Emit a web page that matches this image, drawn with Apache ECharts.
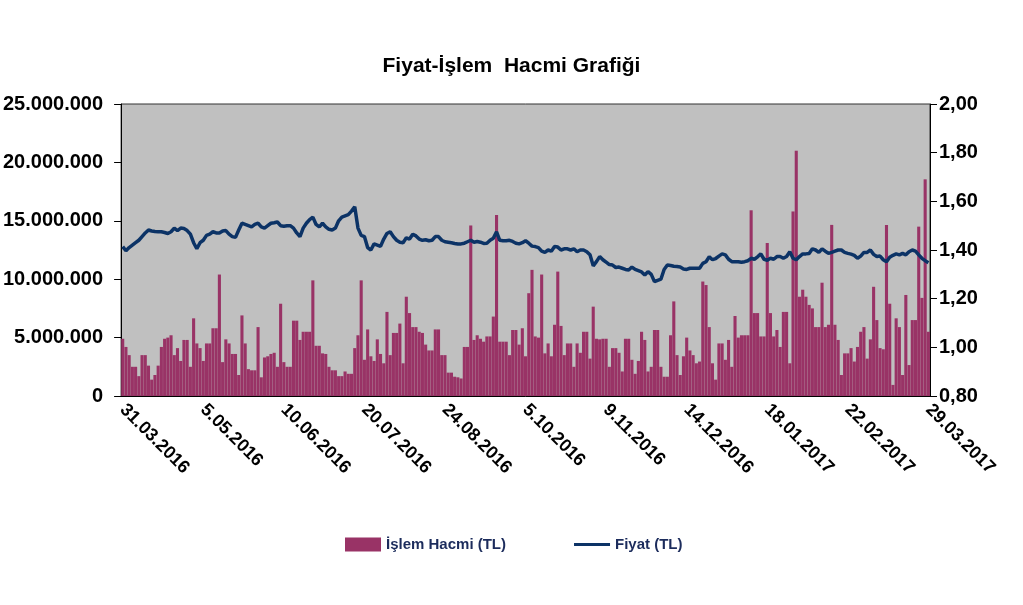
<!DOCTYPE html>
<html>
<head>
<meta charset="utf-8">
<script src="https://cdn.jsdelivr.net/npm/echarts@6/dist/echarts.min.js"></script>
<style>
  html, body { margin: 0; padding: 0; background: #fff; }
  #chart { width: 1023px; height: 605px; }
</style>
</head>
<body>
<div id="chart"></div>
<script>
// x axis labels, one every 25 trading days
const tickLabels = ['31.03.2016', '5.05.2016', '10.06.2016', '20.07.2016', '24.08.2016', '5.10.2016',
  '9.11.2016', '14.12.2016', '18.01.2017', '22.02.2017', '29.03.2017']

// daily trading volume, million TL
const volumeMn = [
  4.9, 4.2, 3.5, 2.5, 2.5, 1.7, 3.5, 3.5, 2.6, 1.4, 1.8, 2.6, 4.2, 4.9, 5.0, 5.2, 3.5, 4.1, 3.0, 4.8, 4.8, 2.5, 6.65, 4.5, 4.1,
  3.0, 4.5, 4.5, 5.8, 5.8, 10.4, 2.9, 4.85, 4.5, 3.6, 3.6, 1.8, 6.9, 4.5, 2.3, 2.2, 2.2, 5.9, 1.6, 3.3, 3.4, 3.6, 3.7, 2.5, 7.9,
  2.9, 2.5, 2.5, 6.45, 6.45, 4.8, 5.5, 5.5, 5.5, 9.9, 4.3, 4.3, 3.65, 3.6, 2.5, 2.2, 2.2, 1.7, 1.7, 2.1, 1.9, 1.9, 4.1, 5.2, 9.9,
  3.1, 5.7, 3.4, 3.0, 4.85, 3.6, 2.8, 7.2, 3.5, 5.4, 5.4, 6.2, 2.8, 8.5, 7.1, 5.9, 5.9, 5.5, 5.4, 4.4, 3.9, 3.9, 5.7, 5.7, 3.5,
  3.5, 2.0, 2.0, 1.65, 1.6, 1.5, 4.2, 4.2, 14.6, 4.8, 5.2, 4.9, 4.65, 5.1, 5.1, 6.8, 15.5, 4.65, 4.65, 4.65, 3.5, 5.65, 5.65, 4.4, 5.8,
  3.4, 8.8, 10.8, 5.1, 5.0, 10.4, 3.65, 4.5, 3.4, 6.1, 10.65, 6.0, 3.5, 4.5, 4.5, 2.5, 4.5, 3.7, 5.5, 5.5, 3.2, 7.65, 4.9, 4.85, 4.9,
  4.9, 2.5, 4.1, 4.1, 3.7, 2.1, 4.9, 4.9, 3.1, 1.9, 3.0, 5.5, 4.8, 2.1, 2.5, 5.65, 5.65, 2.5, 1.65, 1.65, 5.2, 8.1, 3.5, 1.8, 3.4,
  5.0, 3.9, 3.5, 2.8, 2.95, 9.8, 9.5, 5.9, 2.8, 1.4, 4.5, 4.5, 3.1, 4.8, 2.5, 6.85, 5.0, 5.2, 5.2, 5.2, 15.9, 7.1, 7.1, 5.1, 5.1,
  13.1, 7.1, 5.1, 5.65, 4.2, 7.2, 7.2, 2.8, 15.8, 21.0, 8.5, 9.1, 8.5, 7.8, 7.5, 5.9, 5.9, 9.7, 5.9, 6.1, 14.65, 6.1, 4.8, 1.8, 3.65,
  3.65, 4.1, 2.95, 4.2, 5.5, 5.9, 3.2, 4.85, 9.35, 6.5, 4.1, 4.0, 14.65, 7.9, 0.95, 6.65, 5.9, 1.8, 8.65, 2.65, 6.5, 6.5, 14.5, 8.4, 18.55, 5.5
]

// closing price, TL
const price = [
  1.414, 1.397, 1.41, 1.42, 1.43, 1.44, 1.455, 1.47, 1.482, 1.478, 1.476, 1.475, 1.475, 1.472, 1.468, 1.475, 1.49, 1.48, 1.49, 1.488, 1.48, 1.465, 1.43, 1.405, 1.43,
  1.44, 1.46, 1.465, 1.475, 1.47, 1.47, 1.478, 1.48, 1.465, 1.455, 1.452, 1.482, 1.51, 1.505, 1.50, 1.495, 1.505, 1.51, 1.495, 1.49, 1.50, 1.51, 1.512, 1.515, 1.50,
  1.498, 1.50, 1.50, 1.49, 1.47, 1.455, 1.49, 1.51, 1.525, 1.535, 1.505, 1.495, 1.51, 1.495, 1.485, 1.482, 1.49, 1.52, 1.535, 1.54, 1.545, 1.56, 1.578, 1.49, 1.46,
  1.455, 1.41, 1.40, 1.425, 1.42, 1.415, 1.445, 1.468, 1.475, 1.455, 1.44, 1.432, 1.43, 1.45, 1.445, 1.465, 1.458, 1.445, 1.44, 1.442, 1.438, 1.44, 1.455, 1.455, 1.44,
  1.434, 1.432, 1.43, 1.427, 1.425, 1.425, 1.428, 1.434, 1.44, 1.432, 1.435, 1.432, 1.427, 1.428, 1.44, 1.448, 1.475, 1.44, 1.438, 1.438, 1.44, 1.435, 1.428, 1.425, 1.43,
  1.438, 1.428, 1.416, 1.414, 1.41, 1.395, 1.39, 1.40, 1.395, 1.414, 1.412, 1.40, 1.405, 1.405, 1.40, 1.405, 1.393, 1.40, 1.40, 1.393, 1.38, 1.335, 1.352, 1.373, 1.36,
  1.35, 1.34, 1.338, 1.328, 1.33, 1.325, 1.32, 1.318, 1.33, 1.32, 1.315, 1.31, 1.297, 1.311, 1.30, 1.27, 1.275, 1.28, 1.32, 1.338, 1.336, 1.333, 1.332, 1.33, 1.322,
  1.32, 1.325, 1.325, 1.325, 1.325, 1.345, 1.352, 1.372, 1.36, 1.365, 1.375, 1.384, 1.38, 1.362, 1.352, 1.352, 1.352, 1.35, 1.352, 1.356, 1.366, 1.362, 1.372, 1.384, 1.362,
  1.358, 1.366, 1.362, 1.373, 1.373, 1.366, 1.373, 1.393, 1.366, 1.36, 1.373, 1.384, 1.384, 1.386, 1.405, 1.40, 1.39, 1.405, 1.395, 1.386, 1.39, 1.395, 1.40, 1.40, 1.39,
  1.386, 1.383, 1.378, 1.366, 1.375, 1.39, 1.39, 1.40, 1.382, 1.373, 1.375, 1.36, 1.352, 1.37, 1.378, 1.384, 1.38, 1.386, 1.38, 1.393, 1.40, 1.395, 1.38, 1.366, 1.356, 1.348
]

const days = volumeMn.map((_, i) => i)
const volume = volumeMn.map(v => Math.round(v * 1e6))

const barColor = '#993366'
const lineColor = '#0c3366'
const labelFont = "'Liberation Sans', Arial, sans-serif"

function thousands(v) {
  return String(v).replace(/\B(?=(\d{3})+(?!\d))/g, '.')
}

const chart = echarts.init(document.getElementById('chart'))

chart.setOption({
  animation: false,
  title: {
    text: 'Fiyat-İşlem  Hacmi Grafiği',
    left: 'center',
    top: 51,
    textStyle: {
      fontFamily: "'Liberation Sans Narrow', 'Liberation Sans', Arial, sans-serif",
      fontSize: 21,
      fontWeight: 'bold',
      color: '#000'
    }
  },
  legend: {
    left: 340,
    top: 532,
    itemWidth: 36,
    itemHeight: 14,
    itemGap: 68,
    textStyle: {
      fontFamily: labelFont,
      fontSize: 15,
      fontWeight: 'bold',
      color: '#1c2c5c'
    },
    data: [
      { name: 'İşlem Hacmi (TL)', icon: 'rect' },
      // thin bar in the middle of a 36x14 box, so the icon reads as a line
      { name: 'Fiyat (TL)', icon: 'path://M0,0M0,14M0,5.5L36,5.5L36,8.5L0,8.5Z', itemStyle: { color: lineColor } }
    ]
  },
  grid: {
    left: 121,
    right: 93,
    top: 104,
    bottom: 209,
    show: true,
    backgroundColor: '#c0c0c0',
    borderColor: '#333',
    borderWidth: 1
  },
  xAxis: {
    type: 'category',
    data: days,
    axisLine: { lineStyle: { color: '#000' } },
    axisTick: { show: false },
    axisLabel: {
      interval: 24,
      rotate: -45,
      margin: 11,
      fontFamily: labelFont,
      fontSize: 18,
      fontWeight: 'bold',
      color: '#000',
      formatter: (value, idx) => tickLabels[idx / 25] || ''
    }
  },
  yAxis: [
    {
      type: 'value',
      min: 0,
      max: 25000000,
      interval: 5000000,
      splitLine: { show: false },
      axisLine: { show: true, lineStyle: { color: '#000' } },
      axisTick: { show: true, length: 7, lineStyle: { color: '#000' } },
      axisLabel: {
        margin: 18,
        fontFamily: labelFont,
        fontSize: 20,
        fontWeight: 'bold',
        color: '#000',
        formatter: thousands
      }
    },
    {
      type: 'value',
      min: 0.8,
      max: 2.0,
      interval: 0.2,
      splitLine: { show: false },
      axisLine: { show: true, lineStyle: { color: '#000' } },
      axisTick: { show: true, length: 7, lineStyle: { color: '#000' } },
      axisLabel: {
        margin: 9,
        fontFamily: labelFont,
        fontSize: 20,
        fontWeight: 'bold',
        color: '#000',
        formatter: v => v.toFixed(2).replace('.', ',')
      }
    }
  ],
  series: [
    {
      name: 'İşlem Hacmi (TL)',
      type: 'bar',
      data: volume,
      barCategoryGap: '4%',
      itemStyle: { color: barColor }
    },
    {
      name: 'Fiyat (TL)',
      type: 'line',
      yAxisIndex: 1,
      data: price,
      symbol: 'none',
      lineStyle: { width: 3.5, color: lineColor },
      itemStyle: { color: lineColor }
    }
  ]
})
</script>
</body>
</html>
